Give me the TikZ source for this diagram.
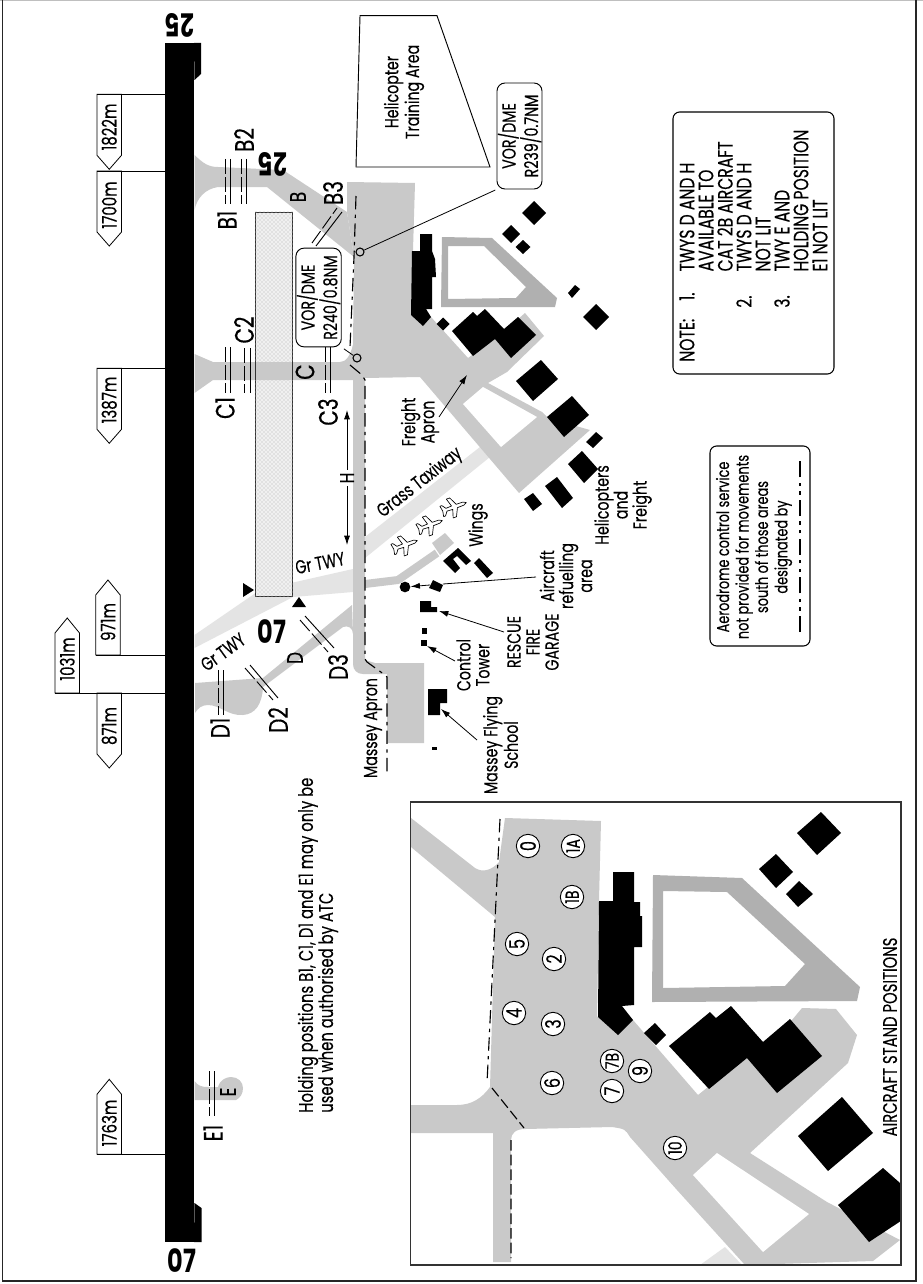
\documentclass[tikz,border=0pt]{standalone}
\usepackage{fontspec}
\setmainfont[FakeStretch=0.75,FakeBold=0.25,BoldFeatures={FakeBold=0}]{Poppins}
\usetikzlibrary{arrows.meta,patterns,positioning}
\definecolor{tw}{HTML}{C9C9C9}
\definecolor{grs}{HTML}{E4E4E4}
\definecolor{rng}{HTML}{B0B0B0}
\newcommand{\distdown}[5]{% name,x,ytop,label,labely
  \coordinate (#1) at (#2,#3);
  \draw[mk] (#1) -- (#2+24.5,#3) -- (#2+24.5,#3+61) -- (#2+12.25,#3+75) -- (#2,#3+61) -- cycle;
  \draw[thn] (#1) -- (#1 -| rwy.west);
  \node[lab,font=\fsb] (#1t) at (#2+12.25,#5) {#4};
}
\newcommand{\distup}[5]{% name,x,ybot,label,labely
  \coordinate (#1) at (#2,#3);
  \draw[mk] (#1) -- (#2+24.5,#3) -- (#2+24.5,#3-60) -- (#2+12.25,#3-75) -- (#2,#3-60) -- cycle;
  \draw[thn] (#1) -- (#1 -| rwy.west);
  \node[lab,font=\fsb] (#1t) at (#2+12.25,#5) {#4};
}
\newcommand{\fsb}{\fontsize{15}{15}\selectfont}
\newcommand{\fsl}{\fontsize{14.2}{14.25}\selectfont}
\newcommand{\fsh}{\fontsize{20}{20}\selectfont}
\newcommand{\fsn}{\fontsize{15.6}{14.25}\selectfont}
\newcommand{\fsc}{\fontsize{16}{16}\selectfont}
\newcommand{\fss}{\fontsize{14}{14}\selectfont}
\newcommand{\fsr}{\fontsize{24}{24}\selectfont\bfseries}
\tikzset{
  x=0.75pt,y=-0.75pt,
  bk/.style={fill=black},
  twy/.style={fill=tw},
  mk/.style={draw=black,fill=white,line width=0.6pt},
  thn/.style={draw=black,line width=0.6pt},
  lab/.style={inner sep=0pt,rotate=90,align=center,font=\fsl},
  big/.style={inner sep=0pt,rotate=90,font=\fsh},
  nlab/.style={inner sep=0pt,rotate=90,anchor=west,font=\fsn},
  holds/.style={draw=black,line width=0.7pt},
  holdd/.style={draw=black,line width=0.7pt,dash pattern=on 11pt off 2.5pt},
  dd/.style={draw=black,line width=0.85pt,dash pattern=on 10pt off 4pt on 2.5pt off 4pt},
  dsh/.style={draw=black,line width=0.85pt,dash pattern=on 8pt off 3pt},
  arr/.style={draw=black,line width=0.6pt,-{Latex[length=7pt,width=4.5pt]}},
  bubble/.style={draw=black,line width=0.7pt,rounded corners=6pt,fill=white,inner sep=0pt,rotate=90,align=center,font=\fsl},
  stand/.style={circle,draw=black,line width=0.7pt,fill=white,inner sep=0pt,rotate=90,font=\fsc,minimum size=17.5pt},
  ring/.style={circle,draw=black,line width=0.8pt,fill=none,inner sep=0pt,minimum size=6pt},
  plane/.pic={\draw[fill=white,line width=0.5pt,line join=round] (13,0) -- (10,1.6) -- (3,1.8) -- (-1,10) -- (-4.5,10) -- (-2,1.8) -- (-8,1.5) -- (-11,5.5) -- (-13,5.5) -- (-12,0) -- (-13,-5.5) -- (-11,-5.5) -- (-8,-1.5) -- (-2,-1.8) -- (-4.5,-10) -- (-1,-10) -- (3,-1.8) -- (10,-1.6) -- cycle;}
}
\begin{document}
\begin{tikzpicture}
\useasboundingbox (0,0) rectangle (923,1284);
\fill[white] (0,0) rectangle (923,1284);
% frame
\draw[black!25,line width=0.8pt] (0,0.5) -- (923,0.5);
\draw[black!85,line width=0.9pt] (2.5,0) -- (2.5,1281) -- (916,1281) -- (916,0);

% grass taxiways
\fill[grs] (194.5,635) -- (260,590) -- (353,569) -- (353,592) -- (293,597) -- (194.5,648) -- cycle;
\fill[grs] (365,537) -- (480,447) -- (490,457) -- (365,558) -- cycle;

% pad
\node[draw=black!80,line width=0.7pt,fill=black!6,minimum width=28.2pt,minimum height=288pt,inner sep=0pt] (pad) at (273.9,404) {};
\fill[pattern=crosshatch dots,pattern color=black!30] (pad.south west) rectangle (pad.north east);

% paved taxiways
% B
\fill[twy] (194.5,155) .. controls (203,163) and (208,167) .. (218,167) -- (283,170) -- (347,212) -- (354,257) -- (267,187) -- (218,187) .. controls (205,189) and (197,198) .. (194.5,210) -- cycle;
% C
\fill[twy] (194.5,354) -- (213,362) -- (340,362) .. controls (346,362) and (350,356) .. (353,345) -- (360,380) -- (213,380) -- (194.5,393) -- cycle;
\draw[black!80,line width=0.7pt] (255,362) -- (255,380) (292.7,362) -- (292.7,380);
% H + Massey apron
\fill[twy] (353,375) -- (365,375) -- (365,660) -- (375,663) -- (424,663) -- (424,743) -- (387,743) -- (387,674) -- (363,674) .. controls (357,674) and (353,670) .. (353,664) -- cycle;
% D
\fill[twy] (352,605) -- (263,678) -- (195,683) -- (195,713) .. controls (198,708) and (202,705) .. (208,705) .. controls (220,705) and (228,716) .. (243,715) .. controls (255,714) and (262,705) .. (263,687) -- (343,627) .. controls (348,625) and (353,628) .. (353,634) -- cycle;
% refuelling strip
\draw[tw,line width=6pt,line join=round] (365,584) -- (398,580) -- (437,553);
\fill[twy] (432,543) -- (445,533) -- (454,543) -- (440,555) -- cycle;
% E
\fill[twy] (194.5,1081) .. controls (198,1086) and (202,1087) .. (208,1087) -- (218,1087) .. controls (220,1080) and (226,1077) .. (231,1077) .. controls (238,1077) and (243,1082) .. (243,1088) .. controls (243,1094) and (240,1098) .. (236,1100) -- (194.5,1100) -- cycle;

% main apron
\fill[twy] (347,182) -- (415,183) -- (413,250) -- (411,313) -- (431,317) -- (468,358) -- (500,335) -- (525,313) -- (544,336) -- (507,372) -- (488,383) -- (542,412) -- (548,418) -- (590,430) -- (519,493) -- (420,377) -- (365,378) -- (353,380) -- (350,362) -- (353,345) -- (354,257) -- (347,212) -- cycle;
\fill[white] (463,404) -- (483,387) -- (537,417) -- (501,447) -- cycle;
% ring
\fill[rng,even odd rule] (442,237) -- (492,238) -- (557,298) -- (555,307) -- (441,307) -- cycle (448,246) -- (448,299) -- (516,298) -- (526,287) -- (484,246) -- cycle;

% runway
\node[fill=black,minimum width=22.1pt,minimum height=899.25pt,inner sep=0pt,draw=none] (rwy) at (179.75,642.5) {};
\fill[bk] (194,43) -- (201,43) -- (201,74) -- (194.5,80) -- cycle;
\fill[bk] (194,1242) -- (201.5,1242) -- (201.5,1208) -- (194.5,1203) -- cycle;

% buildings, main map
\fill[bk] (420,234) -- (432,234) -- (432,251) -- (435,259) -- (436,277) -- (432,277) -- (432,309) -- (426,309) -- (431,317) -- (423,326) -- (411,315) -- (412,251) -- (420,251) -- cycle;
\fill[bk] (443,317.5) -- (449.5,324) -- (443,330.5) -- (436.5,324) -- cycle;
\fill[bk] (452,331) -- (473,312) -- (477,316) -- (485,309) -- (504,329) -- (518,317) -- (536,335) -- (511,358) -- (495,339) -- (473,356) -- cycle;
\fill[bk] (534,201) -- (546,213) -- (534,225) -- (522,213) -- cycle;
\fill[bk] (511,225) -- (520,234) -- (511,243) -- (502,234) -- cycle;
\fill[bk] (523,240) -- (530.5,247) -- (523,254) -- (515.5,247) -- cycle;
\fill[bk] (568,293) -- (575,285) -- (580,289) -- (572,298) -- cycle;
\fill[bk] (596,304) -- (609,317) -- (596,330) -- (583,317) -- cycle;
\fill[bk] (541,360) -- (558,379) -- (533,401) -- (516,381) -- cycle;
\fill[bk] (572,396) -- (589,415) -- (564,437) -- (547,417) -- cycle;
\fill[bk] (596,432) -- (603,438) -- (593,448) -- (586,442) -- cycle;
\fill[bk] (582,451) -- (598,469) -- (584,483) -- (568,464) -- cycle;
\fill[bk] (557,477) -- (573,498) -- (562,508) -- (545,486) -- cycle;
\fill[bk] (533,493) -- (542,504) -- (533,511) -- (524,499) -- cycle;
\fill[bk] (458,548) -- (471,561) -- (466,565) -- (457,556) -- (453,559) -- (460,568) -- (455,573) -- (443,561) -- cycle;
\fill[bk] (479,558) -- (493,573) -- (487,578) -- (474,563) -- cycle;
\fill[bk] (433,580) -- (443,585) -- (440,592) -- (429,588) -- cycle;
\fill[bk] (420,601) -- (431,601) -- (431,607) -- (437,607) -- (437,612) -- (420,612) -- cycle;
\fill[bk] (422,628) rectangle (427,634);
\fill[bk] (421,640) rectangle (427,646);
\fill[bk] (428,689) -- (447,689) -- (447,703) -- (440,703) -- (440,715) -- (428,715) -- cycle;
\fill[bk] (432,747) rectangle (437,750);
\node[circle,fill=black,inner sep=0pt,minimum size=8pt] (fuel) at (405,587) {};

% triangles
\fill[bk] (243,583) -- (243,597) -- (254,590) -- cycle;
\fill[bk] (292,607) -- (306,607) -- (299,597) -- cycle;

% planes
\pic[rotate=20] at (405,545) {plane};
\pic[rotate=20] at (430,525) {plane};
\pic[rotate=20] at (454,507) {plane};

% dashed limits
\draw[dd] (356,196) -- (354,257) -- (350,347);
\draw[dd] (350,365) -- (362,375) -- (365,380) -- (365,659) -- (367,662) -- (385,675) -- (387,677) -- (387,773);

% distance markers
\distdown{m1822}{97}{94.3}{1822m}{127}
\distdown{m1700}{97}{171}{1700m}{205}
\distdown{m1387}{97}{368.3}{1387m}{400}
\distup{m971}{95.7}{655}{971m}{622}
\distdown{m871}{97}{693}{871m}{726}
\distup{m1031}{55}{693}{1031m}{659}
\distup{m1763}{97}{1154.3}{1763m}{1123}

% hold bars
\draw[holdd] (225.5,159) -- (225.5,204);
\draw[holds] (230,159) -- (230,204);
\draw[holdd] (241,159) -- (241,204);
\draw[holds] (246.5,159) -- (246.5,204);
\draw[holdd] (225,347) -- (225,393);
\draw[holds] (230,347) -- (230,393);
\draw[holdd] (244,348) -- (244,393);
\draw[holds] (250,348) -- (250,393);
\draw[holdd] (325,347) -- (325,393);
\draw[holds] (330,347) -- (330,393);
\draw[holdd] (312,243) -- (337,208);
\draw[holds] (316,246) -- (342,212);
\draw[holdd] (218,670) -- (218,715);
\draw[holds] (223,670) -- (223,715);
\draw[holdd] (245,668) -- (273,700);
\draw[holds] (250,665) -- (278,698);
\draw[holdd] (300,620) -- (328,652);
\draw[holds] (305,616) -- (334,648);
\draw[holdd] (209,1071) -- (209,1116);
\draw[holds] (214,1071) -- (214,1116);

% H arrows
\node[big,font=\fontsize{15}{15}\selectfont] (hlab) at (347,478) {H};
\coordinate (hup) at (347,410);
\coordinate (hdn) at (347,545);
\draw[arr] (hlab.east) ++(0,-3) -- (hup);
\draw[arr] (hlab.west) ++(0,3) -- (hdn);

% helicopter area
\draw[line width=0.7pt,fill=white] (360,15.7) -- (437,15.7) -- (490,167) -- (356,167) -- cycle;
\node[lab] (heli) at (404,92) {Helicopter\\Training Area};

% VOR boxes
\node[ring] (vc1) at (357,358) {};
\node[ring] (vc2) at (360,252) {};
\node[bubble,minimum width=74pt,minimum height=34pt] (vor1) at (318.6,297.5) {VOR/DME\\R240/0.8NM};
\node[bubble,minimum width=79.5pt,minimum height=33.75pt] (vor2) at (519.5,136) {VOR/DME\\R239/0.7NM};
\draw[thn,shorten <=2pt] (vor1.south west) -- (vc1);
\draw[thn,shorten <=1pt] (vor2.north west) -- (vc2);

% runway numbers
\node[inner sep=0pt,rotate=180,font=\fsr] (n25a) at (180,25) {25};
\node[inner sep=0pt,font=\fsr] (n07a) at (182,1261) {07};
\node[inner sep=0pt,rotate=180,font=\fsr] (n25b) at (273,164) {25};
\node[inner sep=0pt,font=\fsr] (n07b) at (272,632) {07};

% holding labels
\node[big] (b1) at (227,220) {B1};
\node[big] (b2) at (244,140) {B2};
\node[big] (b3) at (333,193) {B3};
\node[big] (c1) at (225,408) {C1};
\node[big] (c2) at (244,330) {C2};
\node[big] (c3) at (328,412) {C3};
\node[big] (d1) at (220,728) {D1};
\node[big] (d2) at (278,720) {D2};
\node[big] (d3) at (338,667) {D3};
\node[big] (e1) at (213,1133) {E1};
\node[big,font=\fontsize{17}{17}\selectfont] (lb) at (298,197) {B};
\node[big] (lc) at (305,372) {C};
\node[big,font=\fontsize{17}{17}\selectfont] (ld) at (295,658) {D};
\node[big,font=\fontsize{17}{17}\selectfont] (le) at (228,1092) {E};

% text labels
\node[inner sep=0pt,rotate=11,font=\fsl] (gt1) at (320,563) {Gr TWY};
\node[inner sep=0pt,rotate=36,font=\fsl] (gt2) at (223,652) {Gr TWY};
\node[inner sep=0pt,rotate=38,font=\fsl] (gtx) at (420,483) {Grass Taxiway};
\node[lab] (mapron) at (373,728) {Massey Apron};
\node[lab] (fapron) at (420,422) {Freight\\Apron};
\node[lab] (wings) at (478,525) {Wings};
\node[lab] (refl) at (566,576) {Aircraft\\refuelling\\area};
\node[lab] (rff) at (533,642) {RESCUE\\FIRE\\GARAGE};
\node[lab] (ctw) at (473,665) {Control\\Tower};
\node[lab] (mfs) at (500.5,745) {Massey Flying\\School};
\node[lab] (hef) at (623,505) {Helicopters\\and\\Freight};
\node[nlab,font=\fontsize{14.8}{14.25}\selectfont] (hold1) at (308,1113) {Holding positions B1, C1, D1 and E1 may only be};
\node[nlab,font=\fontsize{14.8}{14.25}\selectfont] (hold2) at (328,1113) {used when authorised by ATC};

% leaders
\coordinate (a1s) at (439,417); \coordinate (a1e) at (467,375);
\draw[arr] (a1s) -- (a1e);
\coordinate (a2s) at (536,577); \coordinate (a2e) at (443,584);
\draw[thn] (a2s) -- (a2e);
\coordinate (a3s) at (430,585);
\draw[arr] (a3s) -- (fuel);
\coordinate (a4s) at (504,632); \coordinate (a4e) at (439,611);
\draw[arr] (a4s) -- (a4e);
\coordinate (a5s) at (455,661); \coordinate (a5e) at (427,646);
\draw[arr] (a5s) -- (a5e);
\coordinate (a6s) at (477,740); \coordinate (a6e) at (441,709);
\draw[arr] (a6s) -- (a6e);

% Aerodrome box
\node[draw=black,line width=0.8pt,rounded corners=5pt,rotate=90,inner sep=0pt,minimum width=150pt,minimum height=75pt] (acs) at (760,546) {};
\node[lab,font=\fontsize{12.9}{14.6}\selectfont] (acst) at (754,547) {Aerodrome control service\\not provided for movements\\south of those areas\\designated by};
\coordinate (ldgA) at (800,632); \coordinate (ldgB) at (800,460);
\draw[draw=black,line width=0.8pt,dash pattern=on 12pt off 4pt on 2.5pt off 4pt on 2.5pt off 4pt] (ldgA) -- (ldgB);

% note box
\node[draw=black,line width=0.8pt,rounded corners=5pt,rotate=90,inner sep=0pt,minimum width=196.5pt,minimum height=120.75pt] (note) at (753.5,243) {};
\node[nlab] (n0) at (687,362) {NOTE:};
\node[nlab] (n1) at (687,301) {1.};
\node[nlab] (n2) at (744,308) {2.};
\node[nlab] (n3) at (782,308) {3.};
\node[nlab] (l1) at (687,271.7) {TWYS D AND H};
\node[nlab] (l2) at (706,271.7) {AVAILABLE TO};
\node[nlab] (l3) at (725,271.7) {CAT 2B AIRCRAFT};
\node[nlab] (l4) at (744,271.7) {TWYS D AND H};
\node[nlab] (l5) at (763,271.7) {NOT LIT};
\node[nlab] (l6) at (782,271.7) {TWY E AND};
\node[nlab] (l7) at (801,271.7) {HOLDING POSITION};
\node[nlab] (l8) at (820,271.7) {E1 NOT LIT};

% inset
\begin{scope}
\clip (410.7,802) rectangle (901,1265);
\fill[grs] (700,1265) -- (725,1247) -- (742,1265) -- cycle;
\fill[twy] (505,818) -- (601,821) -- (599,900) -- (597,1017) -- (622,1007) -- (633,1020) -- (698,1095) -- (792,1020) -- (802,1008) -- (836,1009) -- (857,1035) -- (848,1063) -- (750,1153) -- (827,1202) -- (900,1240) -- (873,1261) -- (840,1262) -- (745,1265) -- (677,1190) -- (630,1137) .. controls (625,1129) .. (612,1127) -- (525,1129) .. controls (516,1129) and (511,1133) .. (511,1140) -- (511,1262) -- (493,1262) -- (493,1133) -- (411,1133) -- (411,1105) -- (457,1105) .. controls (472,1105) and (482,1098) .. (490,1087) -- (495,917) -- (411,847) -- (411,818) -- (475,868) .. controls (483,873) and (492,870) .. (499,862) -- cycle;
\fill[white] (717,1153) -- (809,1214) -- (763,1252) -- (693,1175) -- cycle;
\fill[rng,even odd rule] (653,875) -- (742,878) -- (860,987) -- (857,1001) -- (652,1002) -- cycle (663,891) -- (663,988) -- (785,986) -- (805,964) -- (727,892) -- cycle;
\fill[bk] (613,872) -- (634,872) -- (634,902) -- (640,902) -- (640,916) -- (642,916) -- (642,947) -- (634,947) -- (634,1005) -- (622,1006) -- (633,1020) -- (618,1035) -- (598,1017) -- (599,901) -- (613,901) -- cycle;
\fill[bk] (655,1023) -- (666,1035) -- (656,1045) -- (644,1033) -- cycle;
\fill[bk] (669,1046) -- (710,1012) -- (716,1018) -- (731,1006) -- (763,1042) -- (790,1019) -- (822,1056) -- (777,1093) -- (747,1058) -- (709,1089) -- cycle;
\fill[bk] (821,812) -- (841,833) -- (817,855) -- (797,833) -- cycle;
\fill[bk] (776,854) -- (793,872) -- (776,888) -- (759,869) -- cycle;
\fill[bk] (799,881) -- (813,894) -- (798,907) -- (786,894) -- cycle;
\fill[bk] (842,1097) -- (873,1133) -- (828,1171) -- (798,1136) -- cycle;
\fill[bk] (838,1205) -- (883,1168) -- (925,1205) -- (869,1242) -- cycle;
\draw[dd] (500,819) -- (487,1083);
\draw[dsh] (492,1088) -- (524,1128) (511,1140) -- (511,1258);
\end{scope}
\draw[black!80,line width=0.8pt] (410.7,802) rectangle (901,1265);

\node[stand] (s0) at (528,846) {0};
\node[stand,font=\fss] (s1a) at (573,846) {1A};
\node[stand,font=\fss] (s1b) at (572,897) {1B};
\node[stand] (s5) at (517,944) {5};
\node[stand] (s2) at (554,959) {2};
\node[stand] (s4) at (514,1013) {4};
\node[stand] (s3) at (553,1024) {3};
\node[stand] (s6) at (552,1083) {6};
\node[stand,font=\fss] (s7b) at (612,1061) {7B};
\node[stand] (s9) at (640,1071) {9};
\node[stand] (s7) at (612,1091) {7};
\node[stand,font=\fss] (s10) at (675,1148) {10};
\node[lab,font=\fontsize{14.8}{14}\selectfont] (asp) at (890,1037) {AIRCRAFT STAND POSITIONS};
\end{tikzpicture}
\end{document}
